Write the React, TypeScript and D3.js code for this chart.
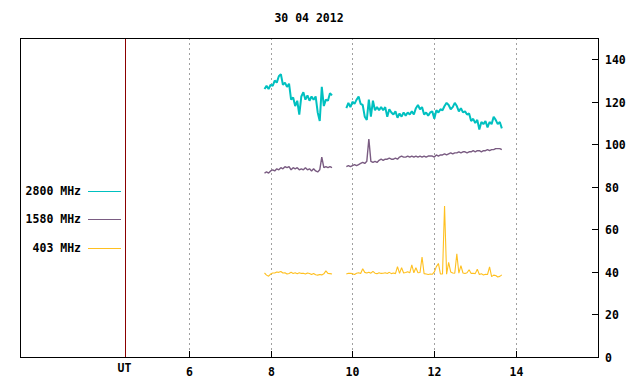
import React from "react";
import * as d3 from "d3";

const W = 640;
const H = 384;
const TITLE = "30 04 2012";

// time grid (hours UT), 3-minute samples
const seg1Start = 7.85;
const seg2Start = 9.85;
const stepH = 0.05;

const xTicks = [6, 8, 10, 12, 14];
const yTicks = [0, 20, 40, 60, 80, 100, 120, 140];

const legendNames = ["2800 MHz", "1580 MHz", "403 MHz"];
const colors = ["#00c0c0", "#7a5c82", "#ffc020"];

const s2800a = [126, 127.5, 126, 128, 127.5, 130, 129, 132, 133, 128, 129, 127, 128.5, 121, 122, 118, 120.5, 114, 122.5, 124.5, 121, 123, 120.5, 122.5, 121, 122.5, 115, 111, 127, 118, 121, 120.5, 124, 123];
const s2800b = [117, 119.5, 117.5, 120, 119, 121, 122.5, 119, 118.5, 113, 111.5, 121, 113, 120.5, 116, 117.5, 116, 117.5, 116, 117.5, 113, 116.5, 115, 114, 115.5, 112.5, 114.5, 113, 115, 113.5, 115, 114, 115.5, 114, 117, 118.5, 116.5, 117.5, 114, 115, 113.5, 115, 115.5, 112, 116, 115, 116.5, 116, 118, 119.5, 118.5, 116.5, 117.5, 119.5, 118, 115.5, 117, 115, 115.5, 114, 114.5, 111, 112, 110, 111.5, 107, 110.5, 109.5, 111, 108, 110.5, 109.5, 113, 111.5, 109.5, 110.5, 107.5];

const s1580a = [86.5, 87, 86.5, 87.5, 88, 87.5, 88.5, 88, 89, 88.5, 89.5, 89, 89.5, 88, 89, 88.5, 89, 88, 88.5, 88, 89, 88, 88.5, 87.5, 88.5, 87.5, 87, 88, 94, 89, 89.5, 89, 89.5, 89];
const s1580b = [89.5, 90, 89.5, 90, 90.5, 90, 90.5, 91, 91.5, 91, 92, 102.5, 92, 91.5, 92, 91.5, 92.5, 93, 92.5, 93, 93, 93.5, 93, 93, 93.5, 93, 94, 94.5, 94, 94, 94.5, 94, 94.5, 94, 94.5, 94, 94.5, 94, 94.5, 94, 94.5, 94.5, 94.5, 94, 95, 94.5, 95, 95, 95.5, 95, 95.5, 96, 95.5, 96, 96, 96.5, 96, 96.5, 96.5, 96, 96.5, 96.5, 97, 96.5, 97, 97, 96.5, 97, 97, 97.5, 97, 97.5, 97.5, 98, 98, 98, 97.5];

const s403a = [39.5, 38.5, 38, 39, 39.5, 39.5, 40, 39.8, 40.2, 39.5, 39.6, 39, 39.3, 39.8, 39.3, 39.6, 39.2, 39.6, 39.3, 39.4, 39, 39.5, 39.3, 38.8, 39.3, 38.7, 38.5, 38.8, 38.6, 39.1, 40.5, 39.3, 39.2, 39];
const s403b = [39, 39.4, 39.3, 39.2, 38.8, 39.4, 39.6, 39.3, 41.5, 39.8, 39.5, 39.9, 39.4, 40.3, 39.4, 39.2, 39.6, 39.3, 39.4, 39.6, 39.3, 39.8, 39.2, 39.5, 39.2, 42.5, 39.3, 42, 39.5, 39.7, 40.1, 39.6, 43.3, 39.6, 42, 39.6, 39.7, 47, 39.2, 39, 38.8, 39, 38.9, 40, 42.5, 44, 39, 39, 71, 38.9, 44.5, 40, 39.5, 39.4, 48.5, 39.4, 43, 39.5, 39.3, 39.6, 41, 39.3, 39.4, 39.2, 41.3, 38.8, 39.2, 38.6, 38.9, 38.8, 42.4, 37.8, 38.5, 38.3, 37.6, 37.9, 38.6];

const seriesSegs = [
  [s2800a, s2800b],
  [s1580a, s1580b],
  [s403a, s403b],
];
const widths = [2, 1.4, 1.1];

const FONT = "'DejaVu Sans Mono', monospace";

export default function App() {
  const left = 20, right = 598, top = 38, bottom = 357;
  const x = d3.scaleLinear().domain([1.875, 16]).range([left, right]);
  const y = d3.scaleLinear().domain([0, 150]).range([bottom, top]);
  const line = d3
    .line<[number, number]>()
    .x((d) => x(d[0]))
    .y((d) => y(d[1]));

  const toPts = (vals: number[], start: number) =>
    vals.map((v, i) => [start + i * stepH, v] as [number, number]);

  const legendY = [191, 219, 248];
  const utX = 125.5;

  return (
    <svg
      width={W}
      height={H}
      style={{ position: "fixed", left: 0, top: 0, background: "#fff" }}
    >
      <rect x={0} y={0} width={W} height={H} fill="#fff" />
      <text
        x={(left + right) / 2}
        y={22}
        textAnchor="middle"
        fontFamily={FONT}
        fontWeight="bold"
        fontSize={11.5}
        fill="#000"
      >
        {TITLE}
      </text>
      {xTicks.map((t) => (
        <g key={t}>
          <line
            x1={Math.round(x(t)) + 0.5}
            x2={Math.round(x(t)) + 0.5}
            y1={top}
            y2={bottom}
            stroke="#a0a0a0"
            strokeDasharray="2,3"
            shapeRendering="crispEdges"
          />
          <line
            x1={Math.round(x(t)) + 0.5}
            x2={Math.round(x(t)) + 0.5}
            y1={bottom}
            y2={bottom - 6}
            stroke="#000"
            shapeRendering="crispEdges"
          />
          <text
            x={Math.round(x(t)) + 0.5}
            y={376}
            textAnchor="middle"
            fontFamily={FONT}
            fontWeight="bold"
            fontSize={11.5}
          >
            {t}
          </text>
        </g>
      ))}
      {yTicks.map((t) => (
        <g key={t}>
          <line
            x1={right - 6}
            x2={right}
            y1={Math.round(y(t)) + 0.5}
            y2={Math.round(y(t)) + 0.5}
            stroke="#000"
            shapeRendering="crispEdges"
          />
          <text
            x={605}
            y={Math.round(y(t)) + 4.5}
            fontFamily={FONT}
            fontWeight="bold"
            fontSize={11.5}
          >
            {t}
          </text>
        </g>
      ))}
      <line
        x1={utX}
        x2={utX}
        y1={top}
        y2={bottom}
        stroke="#8b0000"
        shapeRendering="crispEdges"
      />
      <text
        x={utX - 1}
        y={372}
        textAnchor="middle"
        fontFamily={FONT}
        fontWeight="bold"
        fontSize={11.5}
      >
        UT
      </text>
      <rect
        x={left + 0.5}
        y={top + 0.5}
        width={right - left}
        height={bottom - top}
        fill="none"
        stroke="#000"
        shapeRendering="crispEdges"
      />
      {seriesSegs.map((segs, si) => (
        <g key={si}>
          <path
            d={line(toPts(segs[0], seg1Start)) || ""}
            fill="none"
            stroke={colors[si]}
            strokeWidth={widths[si]}
            strokeLinejoin="bevel"
          />
          <path
            d={line(toPts(segs[1], seg2Start)) || ""}
            fill="none"
            stroke={colors[si]}
            strokeWidth={widths[si]}
            strokeLinejoin="bevel"
          />
        </g>
      ))}
      {legendNames.map((n, i) => (
        <g key={n}>
          <text
            x={81}
            y={legendY[i] + 4}
            textAnchor="end"
            fontFamily={FONT}
            fontWeight="bold"
            fontSize={11.5}
          >
            {n}
          </text>
          <line
            x1={88}
            x2={121}
            y1={legendY[i] + 0.5}
            y2={legendY[i] + 0.5}
            stroke={colors[i]}
            shapeRendering="crispEdges"
          />
        </g>
      ))}
    </svg>
  );
}
